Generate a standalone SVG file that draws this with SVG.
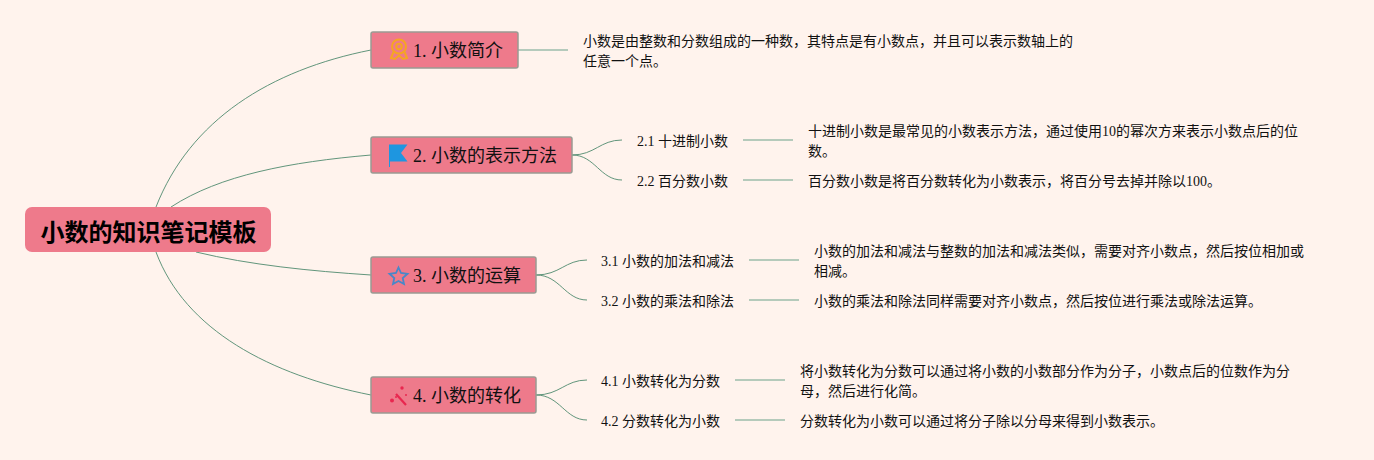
<svg xmlns="http://www.w3.org/2000/svg" width="1374" height="460" viewBox="0 0 1374 460">
<style>
text{font-family:"Liberation Serif","Noto Sans CJK SC",serif;fill:#111}
.root{fill:#ee7a8b}
.topic{fill:#ee7a8b;stroke:#9a9a92;stroke-width:1.5}
.t{font-size:18px}
.s,.d{font-size:14px}
.c{fill:none;stroke:#4f8a6e;stroke-width:.9}
.l{fill:none;stroke:#9dbdab;stroke-width:1.4}
</style>
<rect width="1374" height="460" fill="#fff3ed"/>
<g id="connectors">
<path class="c" d="M156 207C190 120 270 70 371 50"/>
<path class="c" d="M171 207C220 175 290 162 371 155"/>
<path class="c" d="M196 252C250 265 310 271 371 275"/>
<path class="c" d="M156 252C185 330 270 375 371 395"/>
<path class="l" d="M518 50H568"/>
<path class="c" d="M572 155C595 155 600 140 622 140M572 155C595 155 600 180 622 180"/>
<path class="l" d="M743 140H793M743 180H793"/>
<path class="c" d="M536 275C560 275 565 260 587 260M536 275C560 275 565 300 587 300"/>
<path class="l" d="M749 260H799M749 300H799"/>
<path class="c" d="M536 395C560 395 565 380 587 380M536 395C560 395 565 420 587 420"/>
<path class="l" d="M735 380H785M735 420H785"/>
</g>
<g id="root"><rect class="root" x="25" y="207" width="246" height="45" rx="7"/><text x="40.500" y="241" font-size="24" font-weight="700" style="fill:#000">小数的知识笔记模板</text></g>
<g id="topic1"><rect class="topic" x="371" y="32" width="147" height="36" rx="2"/>
<g fill="none" stroke="#f5a623" stroke-width="2"><circle cx="399" cy="46.500" r="7"/><circle cx="399" cy="46.500" r="2.800"/><path d="M393.500 52L391 58L395 59L399 55.500L403 59L407 58L404.500 52"/></g>
<text class="t" x="413" y="57">1. 小数简介</text></g>
<g id="topic2"><rect class="topic" x="371" y="137" width="201" height="36" rx="2"/>
<path d="M389 144.500H407.500L401 153L407.500 161.500H390V167H389Z" fill="#1e96e0"/>
<text class="t" x="413" y="162">2. 小数的表示方法</text></g>
<g id="topic3"><rect class="topic" x="371" y="257" width="165" height="36" rx="2"/>
<path d="M398.500 267.500L401 273L407.500 273.800L402.700 278L404 284L398.500 281L393 284L394.300 278L389.500 273.800L396 273Z" fill="none" stroke="#4a87c7" stroke-width="1.800"/>
<text class="t" x="413" y="282">3. 小数的运算</text></g>
<g id="topic4"><rect class="topic" x="371" y="377" width="165" height="36" rx="2"/>
<path d="M396 394L406 405" stroke="#e8274f" stroke-width="2.200" fill="none"/><circle cx="392" cy="400.500" r="2" fill="#e8274f"/><circle cx="396" cy="397" r="1" fill="#e8274f"/><circle cx="402" cy="388" r="1.700" fill="#e8274f"/><circle cx="406" cy="395" r="1" fill="#e8274f"/>
<text class="t" x="413" y="402">4. 小数的转化</text></g>
<g id="detail1"><text class="d" x="583" y="46">小数是由整数和分数组成的一种数，其特点是有小数点，并且可以表示数轴上的</text><text class="d" x="583" y="66">任意一个点。</text></g>
<g id="sub21"><text class="s" x="637" y="146">2.1 十进制小数</text></g>
<g id="sub22"><text class="s" x="637" y="186">2.2 百分数小数</text></g>
<g id="detail21"><text class="d" x="808" y="136">十进制小数是最常见的小数表示方法，通过使用10的幂次方来表示小数点后的位</text><text class="d" x="808" y="156">数。</text></g>
<g id="detail22"><text class="d" x="808" y="186">百分数小数是将百分数转化为小数表示，将百分号去掉并除以100。</text></g>
<g id="sub31"><text class="s" x="601" y="266">3.1 小数的加法和减法</text></g>
<g id="sub32"><text class="s" x="601" y="306">3.2 小数的乘法和除法</text></g>
<g id="detail31"><text class="d" x="814" y="256">小数的加法和减法与整数的加法和减法类似，需要对齐小数点，然后按位相加或</text><text class="d" x="814" y="276">相减。</text></g>
<g id="detail32"><text class="d" x="814" y="306">小数的乘法和除法同样需要对齐小数点，然后按位进行乘法或除法运算。</text></g>
<g id="sub41"><text class="s" x="601" y="386">4.1 小数转化为分数</text></g>
<g id="sub42"><text class="s" x="601" y="426">4.2 分数转化为小数</text></g>
<g id="detail41"><text class="d" x="800" y="376">将小数转化为分数可以通过将小数的小数部分作为分子，小数点后的位数作为分</text><text class="d" x="800" y="396">母，然后进行化简。</text></g>
<g id="detail42"><text class="d" x="800" y="426">分数转化为小数可以通过将分子除以分母来得到小数表示。</text></g>
</svg>
